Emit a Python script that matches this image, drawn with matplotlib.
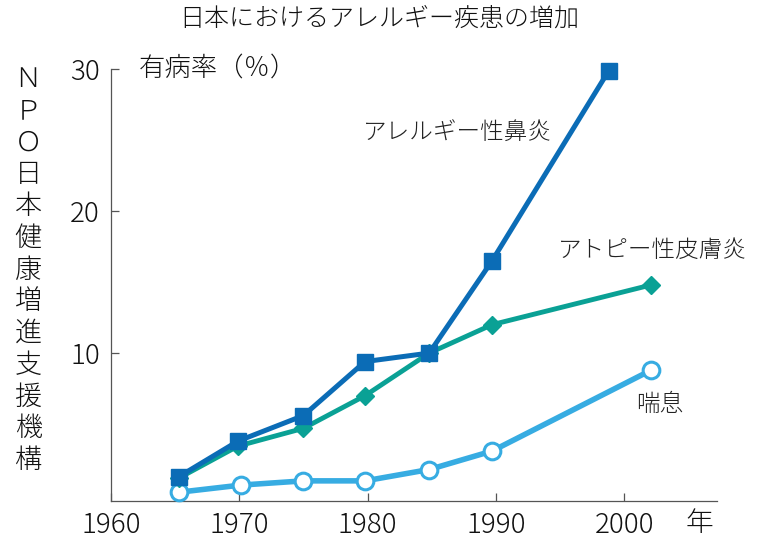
import matplotlib
matplotlib.use("Agg")
import matplotlib.pyplot as plt

plt.rcParams['font.family'] = ['Noto Sans CJK JP', 'DejaVu Sans']
plt.rcParams['font.weight'] = 'light'

# データ
years_rhinitis = [1965.3, 1969.9, 1975.0, 1979.8, 1984.8, 1989.7, 1998.8]
rhinitis = [1.3, 3.8, 5.6, 9.4, 10.0, 16.5, 29.9]

years_atopic = [1965.3, 1969.9, 1975.0, 1979.8, 1984.8, 1989.7, 2002.1]
atopic = [1.2, 3.45, 4.7, 7.0, 10.0, 12.0, 14.8]

years_asthma = [1965.3, 1970.1, 1975.0, 1979.8, 1984.8, 1989.7, 2002.1]
asthma = [0.2, 0.7, 1.0, 1.0, 1.8, 3.1, 8.8]

x_ticks = [1960, 1970, 1980, 1990, 2000]
y_ticks = [10, 20, 30]

title = "日本におけるアレルギー疾患の増加"
ylabel = "ＮＰＯ日本健康増進支援機構"

C_RHI = "#0b6cb6"
C_ATO = "#0aa195"
C_AST = "#37ace2"

fig = plt.figure(figsize=(7.6, 5.44), dpi=100)
ax = fig.add_axes([0.146, 0.079, 0.797, 0.794])

ax.plot(years_asthma, asthma, color=C_AST, lw=4, marker='o', ms=12,
        mfc='white', mec=C_AST, mew=2.2, clip_on=False, zorder=3)
ax.plot(years_atopic, atopic, color=C_ATO, lw=3.5, marker='D', ms=9,
        mfc=C_ATO, mec=C_ATO, clip_on=False, zorder=4)
ax.plot(years_rhinitis, rhinitis, color=C_RHI, lw=3.6, marker='s', ms=12,
        mfc=C_RHI, mec=C_RHI, clip_on=False, zorder=5)

ax.set_xlim(1960, 2007.2)
ax.set_ylim(-0.42, 30)
ax.set_xticks(x_ticks)
ax.set_yticks(y_ticks)

for s in ['top', 'right']:
    ax.spines[s].set_visible(False)
for s in ['left', 'bottom']:
    ax.spines[s].set_color('#555555')
    ax.spines[s].set_linewidth(0.9)

ax.tick_params(axis='both', direction='in', length=6, width=0.9,
               color='#555555', labelsize=20, labelcolor='#111111')
ax.tick_params(axis='x', pad=7)
ax.tick_params(axis='y', pad=8)

# 系列ラベル
ax.text(1987.0, 25.5, "アレルギー性鼻炎", fontsize=17, ha='center', va='center', color='#222222')
ax.text(2002.2, 17.25, "アトピー性皮膚炎", fontsize=17, ha='center', va='center', color='#222222')
ax.text(2002.8, 6.4, "喘息", fontsize=17, ha='center', va='center', color='#222222')

fig.text(0.499, 0.966, title, fontsize=18, ha='center', va='center', color='#111111')
fig.text(0.182, 0.875, "有病率（％）", fontsize=19, ha='left', va='center', color='#111111')
fig.text(0.902, 0.038, "年", fontsize=20, ha='left', va='center', color='#111111')
fig.text(0.037, 0.5046, "\n".join(ylabel), fontsize=19.5, ha='center', va='center',
         color='#111111', linespacing=1.17)

fig.savefig("out.png", dpi=100, facecolor='white')
